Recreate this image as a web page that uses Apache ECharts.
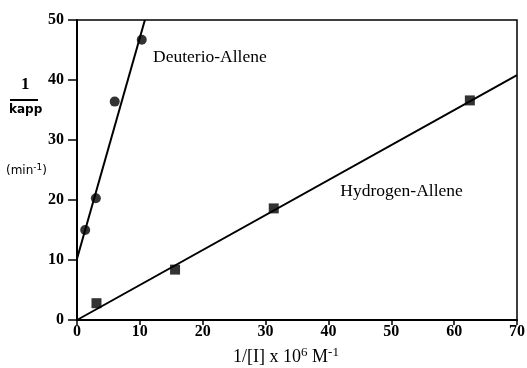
<!DOCTYPE html>
<html><head><meta charset="utf-8">
<script src="https://cdn.jsdelivr.net/npm/echarts@6/dist/echarts.min.js"></script>
<style>html,body{margin:0;padding:0;background:#fff}#c{width:527px;height:368px}</style>
</head><body><div id="c"></div>
<script>
// Data
var deuterioPoints = [[1.3, 15.0], [3.0, 20.3], [6.0, 36.4], [10.3, 46.7]];
var hydrogenPoints = [[3.1, 2.8], [15.6, 8.4], [31.3, 18.6], [62.5, 36.6]];
var deuterioFit = [[0, 10.2], [10.8, 50]];
var hydrogenFit = [[0, 0], [70, 40.8]];
var xTicks = [0, 10, 20, 30, 40, 50, 60, 70];
var yTicks = [0, 10, 20, 30, 40, 50];
var deuterioLabel = ['Deuterio-Allene', 12.1, 43.8];
var hydrogenLabel = ['Hydrogen-Allene', 41.9, 21.4];

var serif = 'Liberation Serif';
var chart = echarts.init(document.getElementById('c'));
chart.setOption({
  animation: false,
  backgroundColor: '#fff',
  grid: {left: 77, right: 10, top: 20, bottom: 48, containLabel: false, outerBoundsMode: 'none',
    show: true, borderColor: '#000', borderWidth: 1.5},
  xAxis: {
    type: 'value', min: xTicks[0], max: xTicks[xTicks.length - 1], interval: 10,
    splitLine: {show: false},
    axisLine: {lineStyle: {color: '#000', width: 2}},
    axisTick: {inside: false, length: 5, lineStyle: {color: '#000', width: 1.5}},
    axisLabel: {color: '#000', fontFamily: serif, fontSize: 16, fontWeight: 'bold', margin: 4},
    name: '1/[I] x 10{s|6} M{s|-1}',
    nameLocation: 'middle', nameGap: 26,
    nameTextStyle: {color: '#000', fontFamily: serif, fontSize: 18, padding: [0, 22, 0, 0],
      rich: {s: {fontFamily: serif, fontSize: 13, color: '#000', padding: [0, 0, 9, 0]}}}
  },
  yAxis: {
    type: 'value', min: yTicks[0], max: yTicks[yTicks.length - 1], interval: 10,
    splitLine: {show: false},
    axisLine: {show: true, lineStyle: {color: '#000', width: 2}},
    axisTick: {show: true, inside: false, length: 9, lineStyle: {color: '#000', width: 1.5}},
    axisLabel: {color: '#000', fontFamily: serif, fontSize: 16, fontWeight: 'bold', margin: 13}
  },
  graphic: [
    {type: 'text', left: 21, top: 76, style: {text: '1', font: 'bold 17px "Liberation Serif"', fill: '#000'}},
    {type: 'line', shape: {x1: 10, y1: 100, x2: 38, y2: 100}, style: {stroke: '#000', lineWidth: 2}},
    {type: 'text', left: 9, top: 104, style: {text: 'kapp', font: 'bold 12px "DejaVu Sans"', fill: '#000'}},
    {type: 'text', left: 6, top: 163, style: {text: '(min{s|-1})', font: '12px "DejaVu Sans"', fill: '#000',
      rich: {s: {fontSize: 9, fontFamily: 'DejaVu Sans', fill: '#000', padding: [0, 0, 6, 0]}}}}
  ],
  series: [
    {type: 'line', data: deuterioFit, symbol: 'none', lineStyle: {color: '#000', width: 2}, silent: true,
      markPoint: {symbol: 'rect', symbolSize: 0,
        label: {show: true, position: 'right', distance: 0, color: '#000', fontFamily: serif, fontSize: 17.5, formatter: deuterioLabel[0]},
        data: [{coord: [deuterioLabel[1], deuterioLabel[2]]}]}},
    {type: 'line', data: hydrogenFit, symbol: 'none', lineStyle: {color: '#000', width: 2}, silent: true,
      markPoint: {symbol: 'rect', symbolSize: 0,
        label: {show: true, position: 'right', distance: 0, color: '#000', fontFamily: serif, fontSize: 17.5, formatter: hydrogenLabel[0]},
        data: [{coord: [hydrogenLabel[1], hydrogenLabel[2]]}]}},
    {type: 'scatter', data: deuterioPoints, symbol: 'circle', symbolSize: 10, itemStyle: {color: '#000'}},
    {type: 'scatter', data: hydrogenPoints, symbol: 'rect', symbolSize: 10, itemStyle: {color: '#000'}}
  ]
});
</script></body></html>
